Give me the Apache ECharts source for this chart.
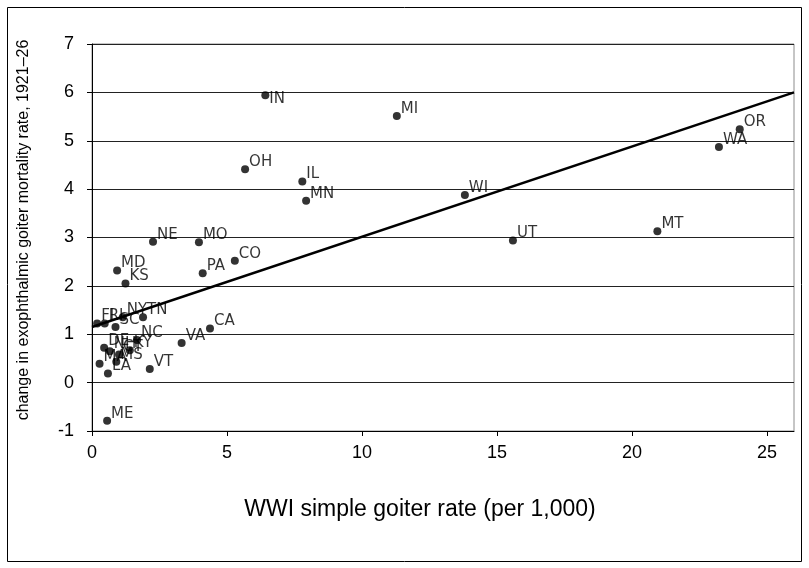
<!DOCTYPE html>
<html>
<head>
<meta charset="utf-8">
<script src="https://cdn.jsdelivr.net/npm/echarts@6/dist/echarts.min.js"></script>
<style>
html,body{margin:0;padding:0;background:#fff;}
#chart{width:809px;height:568px;}
</style>
</head>
<body>
<div id="chart"></div>
<script>
// ---- data ----
const states = ['IN','MI','OH','IL','MN','WI','OR','WA','MT','UT','NE','MO','MD','KS','PA','CO','CA','VA',
  'FL','RI','SC','NY','TN','DE','NH','KY','NC','MA','CT','MS','LA','VT','ME'];
const goiterRate = [6.42,11.29,5.67,7.79,7.93,13.81,23.99,23.22,20.94,15.59,2.26,3.96,0.93,1.24,4.10,5.29,4.37,3.32,
  0.19,0.47,0.87,1.14,1.89,0.45,0.66,1.40,1.67,0.28,1.00,0.90,0.59,2.14,0.56];
const mortalityChange = [5.94,5.51,4.41,4.16,3.76,3.88,5.24,4.87,3.13,2.94,2.91,2.90,2.32,2.05,2.26,2.52,1.12,0.82,
  1.22,1.22,1.15,1.35,1.35,0.72,0.65,0.67,0.88,0.39,0.58,0.43,0.19,0.28,-0.79];
const fitLineX = [0, 26];
const fitLineY = [1.15, 6.0];
const xTicks = [0,5,10,15,20,25];
const xTitle = 'WWI simple goiter rate (per 1,000)';
const yTitle = 'change in exophthalmic goiter mortality rate, 1921\u201326';

const labelBelow = {'IN': true};

const pts = states.map((s,i)=>({name:s, value:[goiterRate[i], mortalityChange[i]]}));
const fitData = fitLineX.map((x,i)=>[x, fitLineY[i]]);

const chart = echarts.init(document.getElementById('chart'), null, {renderer:'canvas'});
chart.setOption({
  animation:false,
  backgroundColor:'#fff',
  grid:{left:92, right:15, top:44, bottom:137, show:true, borderColor:'#8c8c8c', borderWidth:1, backgroundColor:'transparent'},
  xAxis:{
    type:'value', min:0, max:26, interval:5,
    axisLine:{show:true, onZero:false, lineStyle:{color:'#000', width:1}},
    axisTick:{show:true, length:5, inside:false, customValues:xTicks, lineStyle:{color:'#000'}},
    axisLabel:{customValues:xTicks, margin:13, color:'#000', fontFamily:'Liberation Sans', fontSize:18},
    splitLine:{show:false}
  },
  yAxis:{
    type:'value', min:-1, max:7, interval:1,
    axisLine:{show:true, onZero:false, lineStyle:{color:'#000', width:1}},
    axisTick:{show:true, length:5, inside:false, lineStyle:{color:'#000'}},
    axisLabel:{margin:18, color:'#000', fontFamily:'Liberation Sans', fontSize:18},
    splitLine:{show:true, lineStyle:{color:'#222', width:1}}
  },
  graphic:[
    {type:'rect', shape:{x:7.5, y:7.5, width:794, height:554}, style:{fill:'none', stroke:'#000', lineWidth:1}, silent:true},
    {type:'text', x:420, y:510, style:{text:xTitle, fill:'#000', font:'23px "Liberation Sans"', textAlign:'center', textVerticalAlign:'middle'}},
    {type:'text', x:24, y:230, rotation:Math.PI/2, style:{text:yTitle, fill:'#000', font:'16px "Liberation Sans"', textAlign:'center', textVerticalAlign:'middle'}}
  ],
  series:[
    {
      type:'line', data:fitData, showSymbol:false, symbol:'none',
      lineStyle:{color:'#000', width:2.5}, z:2, silent:true
    },
    {
      type:'scatter', data:pts, symbol:'circle', symbolSize:8,
      itemStyle:{color:'#000'}, z:3,
      label:{show:true, position:'right', distance:0, formatter:'{b}',
        color:'#000', fontFamily:'DejaVu Sans', fontSize:15},
      labelLayout:function(p){
        const below = labelBelow[states[p.dataIndex]];
        return {dy: below ? 4 : -7, dx: 0, hideOverlap:false};
      }
    }
  ]
});
</script>
</body>
</html>
